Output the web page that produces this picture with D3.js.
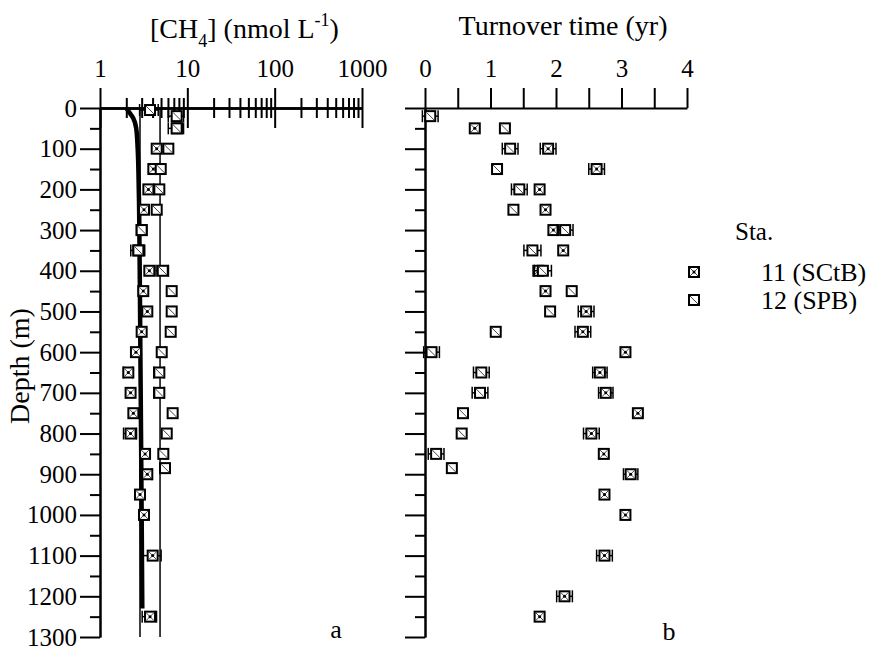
<!DOCTYPE html>
<html><head><meta charset="utf-8">
<script src="https://cdn.jsdelivr.net/npm/d3@7"></script>
<style>
body{margin:0;background:#fff}
</style>
</head><body>
<svg id="c" width="877" height="653"></svg>
<script>
// ---------- data ----------
const depth11 = [50,100,150,200,250,300,350,400,450,500,550,600,650,700,750,800,850,900,950,1000,1100,1200,1250];
const ch4_11  = [7.6,4.46,4.08,3.58,3.19,3.0,2.75,3.67,3.13,3.48,3.0,2.58,2.11,2.24,2.41,2.24,3.28,3.48,2.87,3.19,4.01,null,3.74];
const ch4Err11 = [0,0,0,0,0,0,0,0,0,0,0,0,0.25,0,0,0.38,0,0.45,0,0,1.0,0,0.7];
const turn11  = [0.76,1.88,2.62,1.75,1.84,1.96,2.11,1.73,1.84,2.46,2.41,3.06,2.67,2.76,3.25,2.54,2.73,3.14,2.74,3.06,2.74,2.13,1.75];
const turnErr11 = [0,0.12,0.12,0,0,0,0,0,0,0.12,0.12,0,0.11,0.11,0,0.12,0,0.11,0,0,0.12,0.12,0];

const depth12 = [5,20,50,100,150,200,250,300,350,400,450,500,550,600,650,700,750,800,850,885];
const ch4_12  = [3.74,7.55,7.55,6.06,4.96,4.78,4.46,3.0,2.75,5.23,6.62,6.62,6.45,5.09,4.78,4.78,6.79,5.81,5.31,5.55];
const ch4Err12 = [0.9,1.5,1.5,0,0,0,0,0,0.5,0.85,0,0,0,0.45,0.65,0.65,0,0,0,0];
const turn12  = [null,0.08,1.22,1.30,1.10,1.44,1.35,2.14,1.64,1.80,2.24,1.91,1.08,0.10,0.86,0.84,0.58,0.56,0.17,0.41];
const turnErr12 = [0,0.12,0,0.12,0,0.12,0,0.12,0.13,0.13,0,0,0,0.12,0.12,0.12,0,0,0.12,0];

// equilibrium profile (thick line) and reference lines
const eqDepth = [0,10,25,50,100,200,400,600,800,1000,1230];
const eqCH4   = [2.0,2.15,2.4,2.6,2.7,2.78,2.85,2.9,2.95,3.0,3.05];
const refCH4  = [2.87,4.87];
const refDepthRange = [0,1300];

const depthTicks = d3.range(0,1301,100);
const depthMinor = d3.range(50,1300,100);
const ch4Major = [1,10,100,1000];
const ch4Minor = [2,3,4,5,6,7,8,9,20,30,40,50,60,70,80,90,200,300,400,500,600,700,800,900];
const turnTicks = [0,1,2,3,4];
const turnMinor = [0.5,1.5,2.5,3.5];
const legendLabels = ["11 (SCtB)","12 (SPB)"];

const FONT = "'Liberation Serif','Times New Roman','DejaVu Serif',serif";

// ---------- scales ----------
const svg = d3.select("#c");
const yS = d3.scaleLinear().domain([0,1300]).range([108,637]);
const xL = d3.scaleLog().domain([1,1000]).range([100,362]);
const xR = d3.scaleLinear().domain([0,4]).range([425,687]);

function styleAxis(g){
  g.attr("font-family",FONT).attr("font-size",25);
  g.selectAll("path,line").attr("stroke","#000").attr("stroke-width",2);
  g.selectAll("text").attr("fill","#000");
}

// left y axis
svg.append("g").attr("transform","translate(100,0)")
  .call(d3.axisLeft(yS).tickValues(depthTicks).tickSize(20).tickSizeOuter(0).tickPadding(3).tickFormat(d3.format("d")))
  .call(styleAxis);
svg.append("g").attr("transform","translate(100,0)")
  .call(d3.axisLeft(yS).tickValues(depthMinor).tickSize(10).tickSizeOuter(0).tickFormat(""))
  .call(styleAxis);

// left x axis (log, top)
svg.append("g").attr("transform","translate(0,108)")
  .call(d3.axisTop(xL).tickValues(ch4Major).tickSize(20).tickSizeOuter(0).tickPadding(11).tickFormat(d3.format("d")))
  .call(styleAxis);
svg.append("g").attr("transform","translate(0,108)")
  .call(d3.axisBottom(xL).tickValues(ch4Major).tickSize(20).tickSizeOuter(0).tickFormat(""))
  .call(styleAxis);
svg.append("g").attr("transform","translate(0,108)")
  .call(d3.axisTop(xL).tickValues(ch4Minor).tickSize(10).tickSizeOuter(0).tickFormat(""))
  .call(styleAxis);
svg.append("g").attr("transform","translate(0,108)")
  .call(d3.axisBottom(xL).tickValues(ch4Minor).tickSize(10).tickSizeOuter(0).tickFormat(""))
  .call(styleAxis);

// right y axis
svg.append("g").attr("transform","translate(425,0)")
  .call(d3.axisLeft(yS).tickValues(depthTicks).tickSize(20).tickSizeOuter(0).tickFormat(""))
  .call(styleAxis);
svg.append("g").attr("transform","translate(425,0)")
  .call(d3.axisLeft(yS).tickValues(depthMinor).tickSize(10).tickSizeOuter(0).tickFormat(""))
  .call(styleAxis);
// right x axis
svg.append("g").attr("transform","translate(0,108)")
  .call(d3.axisTop(xR).tickValues(turnTicks.concat(turnMinor)).tickSize(20).tickSizeOuter(0).tickPadding(11)
    .tickFormat(d=>Number.isInteger(d)?d:""))
  .call(styleAxis);

// ---------- left panel lines ----------
refCH4.forEach(v=>{
  svg.append("line").attr("x1",xL(v)).attr("x2",xL(v))
    .attr("y1",yS(refDepthRange[0])).attr("y2",yS(refDepthRange[1]))
    .attr("stroke","#000").attr("stroke-width",1.5);
});
const eqLine = d3.line().x(d=>xL(d[1])).y(d=>yS(d[0])).curve(d3.curveMonotoneY);
svg.append("path").datum(eqDepth.map((d,i)=>[d,eqCH4[i]]))
  .attr("d",eqLine).attr("fill","none").attr("stroke","#000").attr("stroke-width",4.5);

// ---------- markers ----------
function marker(g,x,y,st){
  const s=12,h=s/2;
  const m=g.append("g").attr("transform",`translate(${x},${y})`);
  m.append("rect").attr("x",-h+1).attr("y",-h+1).attr("width",s-2).attr("height",s-2)
    .attr("fill","#fff").attr("stroke","#000").attr("stroke-width",2);
  const k=h-2;
  m.append("line").attr("x1",-k).attr("y1",-k).attr("x2",k).attr("y2",k).attr("stroke","#444").attr("stroke-width",1);
  if(st===11){
    m.append("line").attr("x1",-k).attr("y1",k).attr("x2",k).attr("y2",-k).attr("stroke","#444").attr("stroke-width",1);
    m.append("circle").attr("r",1.5).attr("fill","#000");
  }
}
function errbar(g,x1,x2,y){
  g.append("line").attr("x1",x1).attr("x2",x2).attr("y1",y).attr("y2",y).attr("stroke","#000").attr("stroke-width",1.5);
  [x1,x2].forEach(x=>g.append("line").attr("x1",x).attr("x2",x).attr("y1",y-6).attr("y2",y+6).attr("stroke","#000").attr("stroke-width",1.5));
}
function plotStation(depths,vals,errs,xs,st,isLog){
  const g=svg.append("g");
  depths.forEach((d,i)=>{
    const v=vals[i]; if(v==null) return;
    const e=errs[i];
    if(e>0) errbar(g,xs(Math.max(v-e,isLog?1e-3:-1)),xs(v+e),yS(d));
  });
  depths.forEach((d,i)=>{
    const v=vals[i]; if(v==null) return;
    marker(g,xs(v),yS(d),st);
  });
}
plotStation(depth11,ch4_11,ch4Err11,xL,11,true);
plotStation(depth12,ch4_12,ch4Err12,xL,12,true);
plotStation(depth11,turn11,turnErr11,xR,11,false);
plotStation(depth12,turn12,turnErr12,xR,12,false);

// ---------- titles ----------
const t1=svg.append("text").attr("x",150).attr("y",38).attr("font-size",28);
t1.append("tspan").text("[CH");
t1.append("tspan").attr("dy",9).attr("font-size",18).text("4");
t1.append("tspan").attr("dy",-9).text("] (nmol L");
t1.append("tspan").attr("dy",-12).attr("font-size",18).text("-1");
t1.append("tspan").attr("dy",12).text(")");

svg.append("text").attr("x",563).attr("y",35).attr("text-anchor","middle").attr("font-size",28).text("Turnover time (yr)");
svg.append("text").attr("transform","translate(29,366) rotate(-90)").attr("text-anchor","middle").attr("font-size",28).text("Depth (m)");
svg.append("text").attr("x",336).attr("y",638).attr("text-anchor","middle").attr("font-size",26).text("a");
svg.append("text").attr("x",669).attr("y",640).attr("text-anchor","middle").attr("font-size",26).text("b");

// ---------- legend ----------
svg.append("text").attr("x",735).attr("y",240).attr("font-size",25).text("Sta.");
const lg=svg.append("g");
[11,12].forEach((st,i)=>{
  const y=[272,300][i];
  marker(lg,694,y,st);
  lg.append("text").attr("x",761).attr("y",y+9).attr("font-size",26).text(legendLabels[i]);
});

svg.selectAll("text").style("font-family",FONT).attr("fill","#000");
</script>
</body></html>
